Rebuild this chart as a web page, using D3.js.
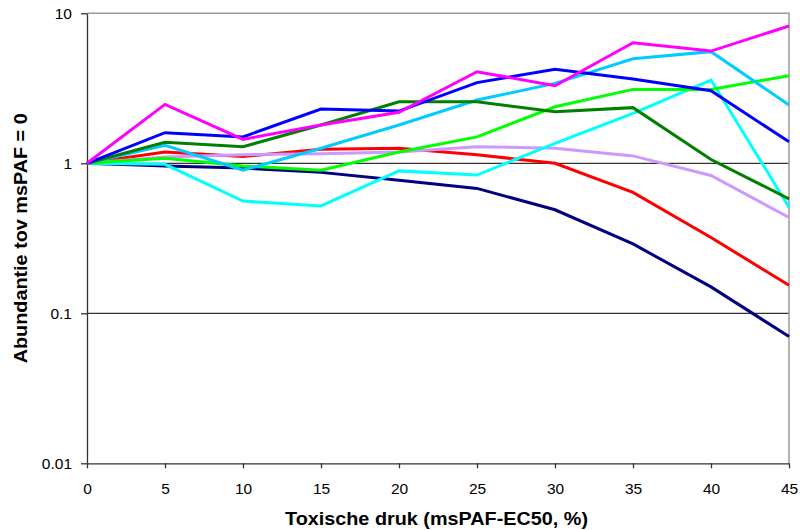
<!DOCTYPE html>
<html>
<head>
<meta charset="utf-8">
<script src="https://cdn.jsdelivr.net/npm/d3@7"></script>
<style>
  html, body { margin: 0; padding: 0; background: #fff; }
  svg { display: block; font-family: "Liberation Sans", Arial, sans-serif; }
</style>
</head>
<body>
<svg id="chart" width="800" height="530"></svg>
<script>
// Toxic pressure levels (msPAF-EC50, %)
const pressure = [0, 5, 10, 15, 20, 25, 30, 35, 40, 45];

// Relative abundance per species group
const navySeries     = [1, 0.96, 0.93, 0.87, 0.77, 0.68, 0.49, 0.29, 0.150, 0.070];
const redSeries      = [1, 1.19, 1.11, 1.24, 1.26, 1.14, 1.00, 0.64, 0.32, 0.154];
const lavenderSeries = [1, 1.10, 1.14, 1.16, 1.19, 1.29, 1.26, 1.12, 0.83, 0.435];
const cyanSeries     = [1, 0.985, 0.56, 0.52, 0.89, 0.835, 1.36, 2.15, 3.59, 0.51];
const limeSeries     = [1, 1.08, 0.96, 0.90, 1.19, 1.50, 2.38, 3.11, 3.11, 3.84];
const skySeries      = [1, 1.32, 0.90, 1.26, 1.80, 2.64, 3.41, 4.98, 5.55, 2.45];
const greenSeries    = [1, 1.38, 1.29, 1.80, 2.57, 2.57, 2.21, 2.35, 1.06, 0.58];
const blueSeries     = [1, 1.60, 1.50, 2.30, 2.23, 3.45, 4.23, 3.65, 3.05, 1.39];
const magentaSeries  = [1, 2.47, 1.445, 1.80, 2.19, 4.08, 3.29, 6.37, 5.6, 8.23];

const seriesList = [
  { values: navySeries,     color: "#000080" },
  { values: redSeries,      color: "#FF0000" },
  { values: lavenderSeries, color: "#CC99FF" },
  { values: cyanSeries,     color: "#00FFFF" },
  { values: limeSeries,     color: "#00FF00" },
  { values: skySeries,      color: "#00CCFF" },
  { values: greenSeries,    color: "#008000" },
  { values: blueSeries,     color: "#0000FF" },
  { values: magentaSeries,  color: "#FF00FF" }
];

const xTicks = [0, 5, 10, 15, 20, 25, 30, 35, 40, 45];
const yTicks = [0.01, 0.1, 1, 10];

const svg = d3.select("#chart");
const plotLeft = 87, plotRight = 789, plotTop = 13.3, plotBottom = 463.3;

const x = d3.scaleLinear().domain([0, 45]).range([plotLeft, plotRight]);
const y = d3.scaleLog().domain([0.01, 10]).range([plotBottom, plotTop]);

// Horizontal gridlines at each inner decade
svg.append("g")
  .selectAll("line")
  .data(yTicks.filter(d => d > 0.01 && d < 10))
  .join("line")
  .attr("x1", plotLeft).attr("x2", plotRight)
  .attr("y1", d => y(d)).attr("y2", d => y(d))
  .attr("stroke", "#000").attr("stroke-width", 1);

// Plot frame (top and right edges)
svg.append("path")
  .attr("d", `M${plotLeft},${plotTop}H${plotRight}V${plotBottom}`)
  .attr("fill", "none").attr("stroke", "#999").attr("stroke-width", 1.5);

// Axes
const xAxis = svg.append("g")
  .attr("transform", `translate(0,${plotBottom})`)
  .call(d3.axisBottom(x).tickValues(xTicks).tickSize(5).tickSizeOuter(0).tickPadding(15).tickFormat(d3.format("d")));
const yAxis = svg.append("g")
  .attr("transform", `translate(${plotLeft},0)`)
  .call(d3.axisLeft(y).tickValues(yTicks).tickSize(6).tickSizeOuter(0).tickPadding(9)
    .tickFormat(d => d >= 1 ? d3.format("d")(d) : String(d)));

[xAxis, yAxis].forEach(g => {
  g.selectAll("path, line").attr("stroke", "#333").attr("stroke-width", 1.3);
  g.selectAll("text").attr("fill", "#000").attr("font-size", 15.5)
    .attr("font-family", "'Liberation Sans', Arial, sans-serif");
});

// Series lines
const line = d3.line()
  .x((d, i) => x(pressure[i]))
  .y(d => y(d));

svg.append("g")
  .selectAll("path")
  .data(seriesList)
  .join("path")
  .attr("d", s => line(s.values))
  .attr("fill", "none")
  .attr("stroke", s => s.color)
  .attr("stroke-width", 3)
  .attr("stroke-linejoin", "miter");

// Axis titles
svg.append("text")
  .attr("x", 436.5).attr("y", 525)
  .attr("text-anchor", "middle")
  .attr("font-size", 17.5).attr("font-weight", "bold")
  .attr("textLength", 303).attr("lengthAdjust", "spacingAndGlyphs")
  .text("Toxische druk (msPAF-EC50, %)");

svg.append("text")
  .attr("transform", `translate(27,${(plotTop + plotBottom) / 2}) rotate(-90)`)
  .attr("text-anchor", "middle")
  .attr("font-size", 17.5).attr("font-weight", "bold")
  .attr("textLength", 250).attr("lengthAdjust", "spacingAndGlyphs")
  .text("Abundantie tov msPAF = 0");
</script>
</body>
</html>
